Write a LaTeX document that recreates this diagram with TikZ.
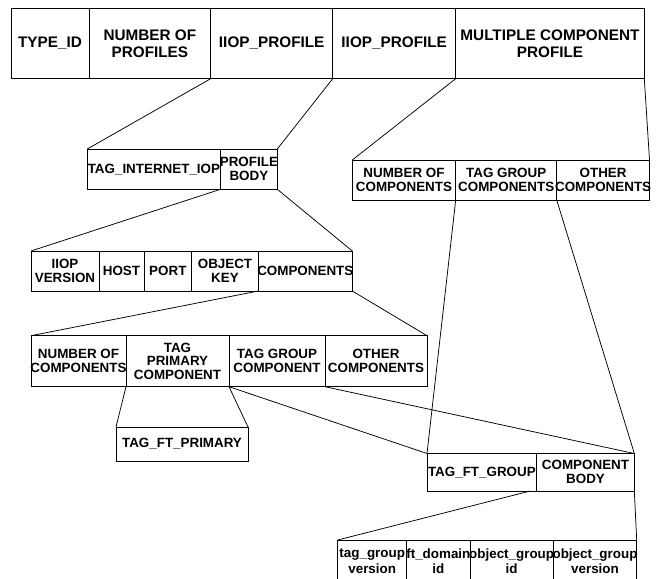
\documentclass[tikz,border=0pt]{standalone}
\usepackage{fontspec}
\setmainfont{Liberation Sans}
\usetikzlibrary{calc}

\newcommand{\smallfont}{\fontsize{13.4}{13.8}\selectfont\bfseries}
\newcommand{\bigfont}{\fontsize{15.3}{17}\selectfont\bfseries}
\newcommand{\lowfont}{\fontsize{13.4}{15.4}\selectfont\bfseries}

\tikzset{
  cell/.style={draw=black, line width=0.75pt, inner sep=0pt, outer sep=0pt},
  lab/.style={inner sep=0pt, align=center, font=\smallfont, text=black},
  link/.style={draw=black, line width=0.75pt},
}

% one field of a record: name, left, top, right, bottom, text
\newcommand{\fld}[6]{%
  \pgfmathsetmacro{\cellw}{#4-#2}%
  \pgfmathsetmacro{\cellh}{#5-#3}%
  \node[cell, minimum width=\cellw pt, minimum height=\cellh pt,
        label={[lab]center:{#6}}] (#1) at ({(#2+#4)/2},{(#3+#5)/2}) {};%
}

\begin{document}
\begin{tikzpicture}[x=1pt, y=-1pt]
\useasboundingbox (0,0) rectangle (666,578);
\clip (0,0) rectangle (666,578);

% IOR: top record
\begin{scope}[lab/.append style={font=\bigfont}]
\fld{typeid}{11}{8.3}{89}{78.7}{TYPE\_ID}
\fld{nprof}{89}{8.3}{210.7}{78.7}{NUMBER OF\\PROFILES}
\fld{iiopa}{210.7}{8.3}{332.7}{78.7}{IIOP\_PROFILE}
\fld{iiopb}{332.7}{8.3}{455.7}{78.7}{IIOP\_PROFILE}
\fld{mcp}{455.7}{8.3}{644.3}{78.7}{MULTIPLE COMPONENT\\PROFILE}
\end{scope}

% IIOP profile
\fld{tagiiop}{87.3}{149}{220.5}{189.3}{TAG\_INTERNET\_IOP}
\fld{pbody}{220.5}{149}{277.3}{189.3}{PROFILE\\BODY}

% multiple component profile
\fld{mncomp}{352.3}{160}{455.7}{200}{NUMBER OF\\COMPONENTS}
\fld{mtag}{455.7}{160}{556.7}{200}{TAG GROUP\\COMPONENTS}
\fld{mother}{556.7}{160}{649.5}{200}{OTHER\\COMPONENTS}

% profile body
\fld{ver}{31}{251}{99}{291}{IIOP\\VERSION}
\fld{host}{99}{251}{144}{291}{HOST}
\fld{port}{144}{251}{191.7}{291}{PORT}
\fld{okey}{191.7}{251}{258.3}{291}{OBJECT\\KEY}
\fld{comps}{258.3}{251}{352.3}{291}{COMPONENTS}

% tagged components
\fld{ncomp}{31}{335.7}{126}{386.7}{NUMBER OF\\COMPONENTS}
\fld{prim}{126}{335.7}{229}{386.7}{TAG\\PRIMARY\\COMPONENT}
\fld{grp}{229}{335.7}{325}{386.7}{TAG GROUP\\COMPONENT}
\fld{other}{325}{335.7}{427}{386.7}{OTHER\\COMPONENTS}

\fld{ftprim}{116}{427}{248}{461}{TAG\_FT\_PRIMARY}

% group component
\fld{ftgrp}{427}{453.5}{536.7}{491}{TAG\_FT\_GROUP}
\fld{cbody}{536.7}{453.5}{634.3}{491}{COMPONENT\\BODY}

% component body (runs on below the page edge)
\begin{scope}[lab/.append style={font=\lowfont}]
\fld{tgv}{337.7}{540}{406.7}{582}{tag\_group\\version}
\fld{fdid}{406.7}{540}{470}{582}{ft\_domain\\id}
\fld{ogid}{470}{540}{553.3}{582}{object\_group\\id}
\fld{ogv}{553.3}{540}{636.7}{582}{object\_group\\version}
\end{scope}

% expansion connectors
\draw[link] (iiopa.south west) -- (tagiiop.north west);
\draw[link] (iiopa.south east) -- (pbody.north east);
\draw[link] (mcp.south west) -- (mncomp.north west);
\draw[link] (mcp.south east) -- (mother.north east);
\draw[link] (pbody.south west) -- (ver.north west);
\draw[link] (pbody.south east) -- (comps.north east);
\draw[link] (comps.south west) -- (ncomp.north west);
\draw[link] (comps.south east) -- (other.north east);
\draw[link] (prim.south west) -- (ftprim.north west);
\draw[link] (prim.south east) -- (ftprim.north east);
\draw[link] (grp.south west) -- (ftgrp.north west);
\draw[link] (grp.south east) -- (cbody.north east);
\draw[link] (mtag.south west) -- (ftgrp.north west);
\draw[link] (mtag.south east) -- (cbody.north east);
\draw[link] ($(cbody.south west)+(-6.5,0)$) -- (tgv.north west);
\draw[link] (cbody.south east) -- (ogv.north east);
\end{tikzpicture}
\end{document}
